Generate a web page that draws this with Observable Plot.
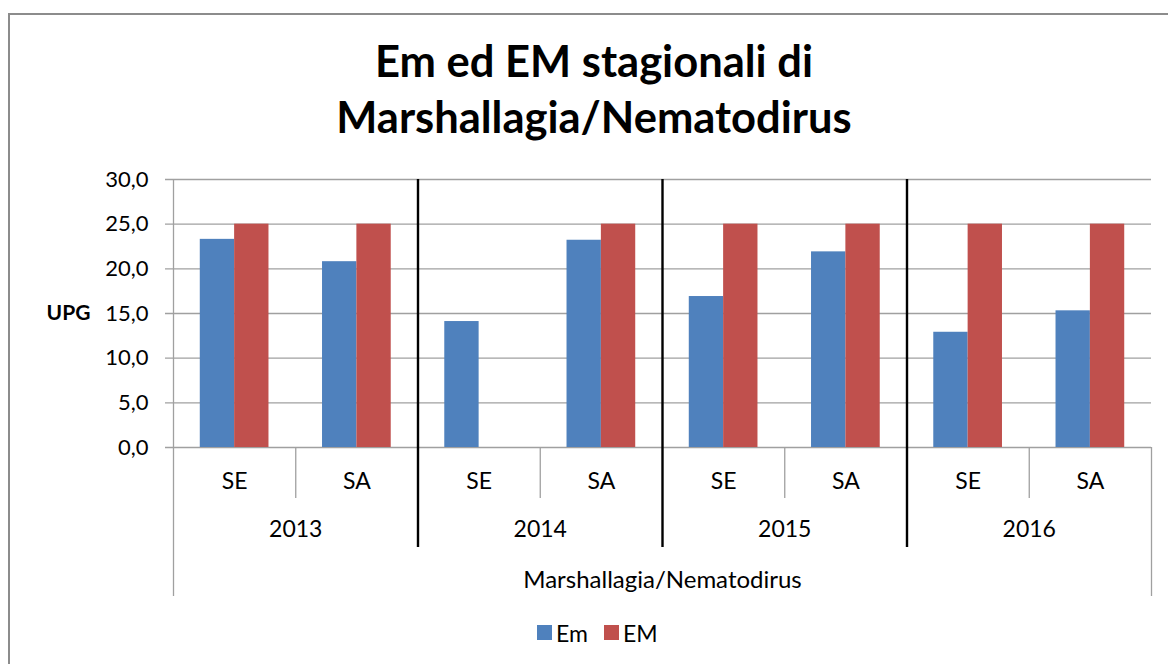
<!DOCTYPE html>
<html>
<head>
<meta charset="utf-8">
<script src="https://cdn.jsdelivr.net/npm/d3@7"></script>
<script src="https://cdn.jsdelivr.net/npm/@observablehq/plot@0.6"></script>
<style>
  body { margin: 0; background: #fff; font-family: Lato, "Open Sans", sans-serif; }
  #wrap { position: relative; width: 1168px; height: 664px; overflow: hidden; background: #fff; }
  #box { position: absolute; left: 8px; top: 13px; width: 1180px; height: 720px; border: 2px solid #8c8c8c; box-sizing: border-box; }
  #title { position: absolute; left: 0; width: 1188px; top: 32px; text-align: center; font-weight: bold; font-size: 43.5px; line-height: 56px; color: #000; }
  #chart { position: absolute; left: 0; top: 0; }
  #legend { position: absolute; left: 537px; top: 619px; height: 27px; display: flex; align-items: center; font-size: 23px; color: #000; }
  .item { display: flex; align-items: center; margin-right: 16px; }
  .sw { width: 15px; height: 15px; margin-right: 4px; }
</style>
</head>
<body>
<div id="wrap">
  <div id="box"></div>
  <div id="title">Em ed EM stagionali di<br>Marshallagia/Nematodirus</div>
  <div id="chart"></div>
  <div id="legend"></div>
</div>
<script>
const years = ["2013", "2014", "2015", "2016"];
const seasons = ["SE", "SA"];
const series = ["Em", "EM"];
const colors = ["#4F81BD", "#C0504D"];
const emValues = [23.3, 20.8, 14.1, 23.2, 16.9, 21.9, 12.9, 15.3];
const EMValues = [25.0, 25.0, null, 25.0, 25.0, 25.0, 25.0, 25.0];
const yTicks = [0, 5, 10, 15, 20, 25, 30];
const groupLabel = "Marshallagia/Nematodirus";
const yLabel = "UPG";

// categories (year x season), indexed in order
const cats = [];
years.forEach(y => seasons.forEach(s => cats.push({year: y, season: s, i: cats.length})));

const rows = [];
cats.forEach((c, k) => {
  if (emValues[k] != null) rows.push({...c, series: "Em", value: emValues[k]});
  if (EMValues[k] != null) rows.push({...c, series: "EM", value: EMValues[k]});
});

const barFrac = 0.281; // share of a category slot taken by one bar
const fmt = d => d.toFixed(1).replace(".", ",");
const grid = "#a0a0a0";

const chart = Plot.plot({
  width: 1168,
  height: 664,
  marginLeft: 173,
  marginRight: 17,
  marginTop: 179,
  marginBottom: 217,
  style: {fontFamily: "Lato, 'Open Sans', sans-serif", fontSize: "22px", color: "#000", background: "transparent"},
  x: {domain: [0, cats.length], axis: null},
  y: {domain: [0, 30]},
  color: {domain: series, range: colors},
  marks: [
    Plot.ruleY(yTicks, {stroke: grid, strokeWidth: 1.3, insetLeft: -8}),
    Plot.axisY({ticks: yTicks, tickSize: 0, tickPadding: 25, tickFormat: fmt, label: null, fontSize: 22}),
    Plot.rectY(rows, {
      x1: d => d.i + 0.5 - (d.series === "Em" ? barFrac : 0),
      x2: d => d.i + 0.5 + (d.series === "Em" ? 0 : barFrac),
      y: "value",
      fill: "series"
    }),
    // left axis line, down through label area
    Plot.ruleX([0], {stroke: grid, strokeWidth: 1.3, insetBottom: -149}),
    // right closing line of category axis
    Plot.ruleX([cats.length], {y1: 0, y2: 0, stroke: grid, strokeWidth: 1.3, insetBottom: -149}),
    // season separators inside each year
    Plot.ruleX(years.map((y, k) => k * seasons.length + 1), {y1: 0, y2: 0, stroke: grid, strokeWidth: 1.3, insetBottom: -51}),
    // year dividers
    Plot.ruleX(years.slice(1).map((y, k) => (k + 1) * seasons.length), {stroke: "#000", strokeWidth: 2.4, insetBottom: -100}),
    Plot.text(cats, {x: d => d.i + 0.5, y: 0, text: "season", dy: 34, fontSize: 23}),
    Plot.text(years, {x: (d, k) => k * seasons.length + seasons.length / 2, y: 0, text: d => d, dy: 82, fontSize: 23}),
    Plot.text([groupLabel], {x: cats.length / 2, y: 0, text: d => d, dy: 133, fontSize: 24}),
    Plot.text([yLabel], {x: 0, y: 15, text: d => d, dx: -105, fontSize: 21, fontWeight: "bold"})
  ]
});
document.getElementById("chart").appendChild(chart);

const legend = document.getElementById("legend");
series.forEach((s, k) => {
  const it = document.createElement("div");
  it.className = "item";
  const sw = document.createElement("div");
  sw.className = "sw";
  sw.style.background = colors[k];
  const t = document.createElement("span");
  t.textContent = s;
  it.appendChild(sw);
  it.appendChild(t);
  legend.appendChild(it);
});
</script>
</body>
</html>
